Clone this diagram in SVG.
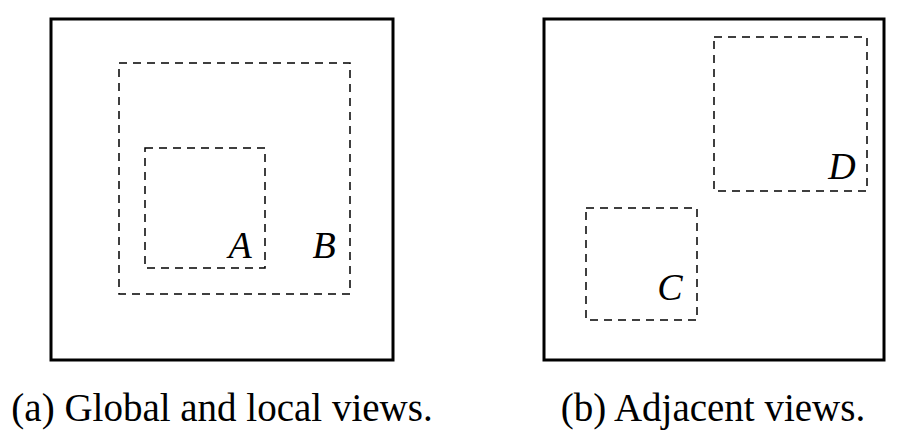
<svg xmlns="http://www.w3.org/2000/svg" width="920" height="448" viewBox="0 0 920 448">
<style>
.frame{fill:none;stroke:#000;stroke-width:3}
.dash{fill:none;stroke:#000;stroke-width:1.5;stroke-dasharray:8,6}
.lbl{font-family:"Liberation Serif",serif;font-style:italic;font-size:38px;text-anchor:middle}
.cap{font-family:"Liberation Serif",serif;font-size:39px;text-anchor:middle}
</style>
<rect width="920" height="448" fill="#fff"/>
<g id="panelA">
<rect class="frame" x="51" y="19" width="342" height="341"/>
<g id="B"><rect class="dash" x="119" y="63" width="231" height="231"/><text class="lbl" x="324" y="258">B</text></g>
<g id="A"><rect class="dash" x="145" y="148" width="120" height="120"/><text class="lbl" x="240" y="258">A</text></g>
<text class="cap" x="222" y="421">(a) Global and local views.</text>
</g>
<g id="panelB">
<rect class="frame" x="544" y="19" width="340" height="341"/>
<g id="D"><rect class="dash" x="714" y="37" width="153" height="154"/><text class="lbl" x="842" y="179">D</text></g>
<g id="C"><rect class="dash" x="586" y="208" width="111" height="112"/><text class="lbl" x="670" y="300">C</text></g>
<text class="cap" x="713" y="421">(b) Adjacent views.</text>
</g>
<g id="connectors"/>
</svg>
